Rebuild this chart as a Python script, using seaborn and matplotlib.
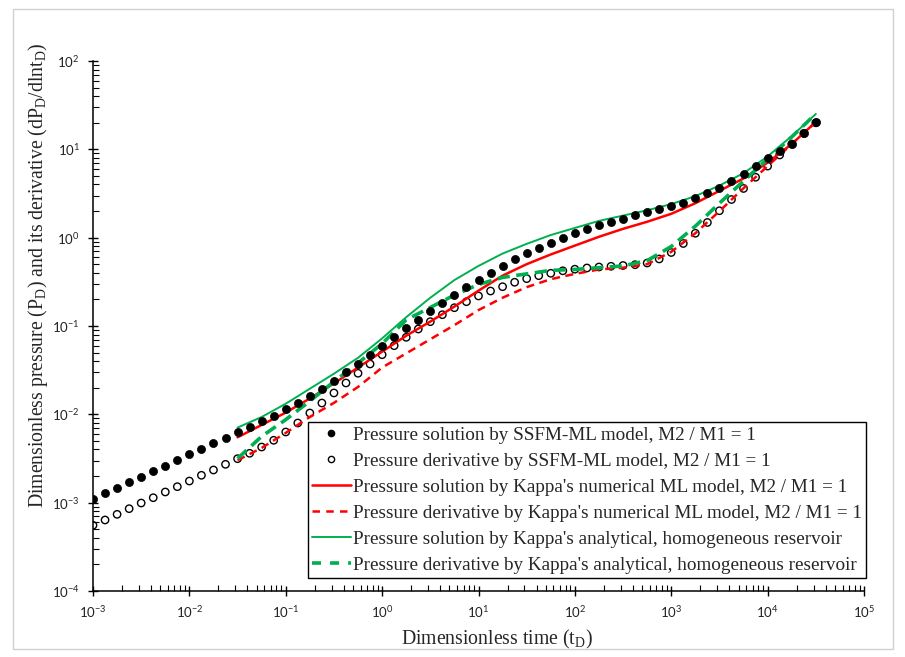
import numpy as np
import pandas as pd
import seaborn as sns
import matplotlib
matplotlib.use("Agg")
import matplotlib.pyplot as plt
from matplotlib.lines import Line2D
from matplotlib.patches import Rectangle
from matplotlib.ticker import FixedLocator, NullFormatter, LogFormatterSciNotation

# ---------------- data (log10 values) ----------------
dot_log_t = [-3.0, -2.875, -2.75, -2.625, -2.5, -2.375, -2.25, -2.125,
             -2.0, -1.875, -1.75, -1.625, -1.5, -1.375, -1.25, -1.125,
             -1.0, -0.875, -0.75, -0.625, -0.5, -0.375, -0.25, -0.125,
             0.0, 0.125, 0.25, 0.375, 0.5, 0.625, 0.75, 0.875,
             1.0, 1.125, 1.25, 1.375, 1.5, 1.625, 1.75, 1.875,
             2.0, 2.125, 2.25, 2.375, 2.5, 2.625, 2.75, 2.875,
             3.0, 3.125, 3.25, 3.375, 3.5, 3.625, 3.75, 3.875,
             4.0, 4.125, 4.25, 4.375, 4.5]
ssfm_p_log = [-2.958, -2.894, -2.831, -2.769, -2.706, -2.641, -2.581, -2.517,
              -2.452, -2.392, -2.328, -2.264, -2.203, -2.143, -2.079, -2.015,
              -1.943, -1.872, -1.796, -1.710, -1.619, -1.521, -1.430, -1.329,
              -1.223, -1.124, -1.026, -0.929, -0.834, -0.743, -0.646, -0.562,
              -0.476, -0.397, -0.321, -0.245, -0.177, -0.117, -0.057, -0.007,
              0.050, 0.095, 0.140, 0.177, 0.215, 0.253, 0.289, 0.321,
              0.359, 0.396, 0.446, 0.502, 0.566, 0.642, 0.722, 0.810,
              0.906, 0.985, 1.065, 1.180, 1.306]
ssfm_d_log = [-3.256, -3.196, -3.132, -3.068, -3.004, -2.944, -2.879, -2.819,
              -2.755, -2.690, -2.630, -2.566, -2.502, -2.441, -2.370, -2.294,
              -2.200, -2.098, -1.985, -1.872, -1.758, -1.645, -1.535, -1.430,
              -1.325, -1.223, -1.128, -1.034, -0.951, -0.872, -0.793, -0.725,
              -0.660, -0.604, -0.555, -0.505, -0.464, -0.430, -0.403, -0.375,
              -0.357, -0.343, -0.332, -0.324, -0.315, -0.306, -0.287, -0.241,
              -0.168, -0.066, 0.050, 0.172, 0.305, 0.432, 0.557, 0.684,
              0.810, 0.936, 1.060, 1.180, 1.300]

line_log_t = [-1.5, -1.25, -1.0, -0.75, -0.5, -0.25, 0.0, 0.25, 0.5, 0.75,
              1.0, 1.25, 1.5, 1.75, 2.0, 2.25, 2.5, 2.75, 3.0, 3.25,
              3.5, 3.75, 4.0, 4.25, 4.5]
kappa_num_p_log = [-2.26, -2.12, -1.98, -1.82, -1.65, -1.47, -1.29, -1.11, -0.95, -0.78,
                   -0.60, -0.43, -0.30, -0.19, -0.09, 0.01, 0.10, 0.18, 0.27, 0.39,
                   0.53, 0.67, 0.85, 1.06, 1.31]
kappa_num_d_log = [-2.52, -2.38, -2.21, -2.03, -1.87, -1.69, -1.47, -1.31, -1.15, -0.99,
                   -0.82, -0.68, -0.56, -0.47, -0.41, -0.36, -0.34, -0.30, -0.16, 0.05,
                   0.30, 0.56, 0.81, 1.06, 1.31]
kappa_ana_p_log = [-2.15, -2.03, -1.88, -1.71, -1.54, -1.36, -1.14, -0.90, -0.68, -0.48,
                   -0.32, -0.18, -0.07, 0.03, 0.11, 0.19, 0.25, 0.31, 0.38, 0.47,
                   0.59, 0.73, 0.92, 1.15, 1.40]
kappa_ana_d_log_t = [-1.5, -1.25, -1.0, -0.75, -0.5, -0.25, 0.0, 0.25, 0.5, 0.75,
                     1.0, 1.25, 1.5, 1.75, 2.0, 2.25, 2.5, 2.75, 3.0, 3.25,
                     3.5, 3.75, 4.0, 4.25, 4.45]
kappa_ana_d_log = [-2.50, -2.25, -2.06, -1.85, -1.63, -1.42, -1.20, -0.93, -0.79, -0.65,
                   -0.53, -0.45, -0.41, -0.37, -0.36, -0.34, -0.32, -0.26, -0.10, 0.13,
                   0.39, 0.64, 0.89, 1.14, 1.35]

x_ticks = [1e-3, 1e-2, 1e-1, 1e0, 1e1, 1e2, 1e3, 1e4, 1e5]
y_ticks = [1e-4, 1e-3, 1e-2, 1e-1, 1e0, 1e1, 1e2]

labels = ["Pressure solution by SSFM-ML model, M2 / M1 = 1",
          "Pressure derivative by SSFM-ML model, M2 / M1 = 1",
          "Pressure solution by Kappa's numerical ML model, M2 / M1 = 1",
          "Pressure derivative by Kappa's numerical ML model, M2 / M1 = 1",
          "Pressure solution by Kappa's analytical, homogeneous reservoir",
          "Pressure derivative by Kappa's analytical, homogeneous reservoir"]

RED = "#FF0000"
GREEN = "#00B050"

# ---------------- figure ----------------
sns.set_style("ticks")
plt.rcParams["font.family"] = ["Liberation Serif", "DejaVu Serif"]
plt.rcParams["mathtext.fontset"] = "custom"
plt.rcParams["mathtext.rm"] = "Liberation Serif"

fig = plt.figure(figsize=(9.05, 6.57), dpi=100)
fig.patches.append(Rectangle((13 / 905, 1 - 649 / 657), 880 / 905, 640 / 657,
                             transform=fig.transFigure, fill=False,
                             edgecolor="#d0d0d0", linewidth=1.0, zorder=0))
ax = fig.add_axes([93 / 905, 1 - 591 / 657, 771 / 905, 530 / 657])
ax.set_xscale("log")
ax.set_yscale("log")

dots = pd.DataFrame({"t": np.power(10.0, dot_log_t),
                     "p": np.power(10.0, ssfm_p_log),
                     "d": np.power(10.0, ssfm_d_log)})
lines = pd.DataFrame({"t": np.power(10.0, line_log_t),
                      "num_p": np.power(10.0, kappa_num_p_log),
                      "num_d": np.power(10.0, kappa_num_d_log),
                      "ana_p": np.power(10.0, kappa_ana_p_log)})
ana_d = pd.DataFrame({"t": np.power(10.0, kappa_ana_d_log_t),
                      "d": np.power(10.0, kappa_ana_d_log)})

sns.scatterplot(data=dots, x="t", y="d", ax=ax, marker="o", s=28,
                facecolors="none", edgecolor="black", linewidth=1.0, zorder=2,
                legend=False)
ax.collections[-1].set_facecolor("none")

sns.lineplot(data=lines, x="t", y="num_p", ax=ax, color=RED, linewidth=1.8,
             sort=False, zorder=3, legend=False)
sns.lineplot(data=lines, x="t", y="num_d", ax=ax, color=RED, linewidth=1.8,
             sort=False, zorder=3, legend=False)
ax.lines[-1].set_dashes((3.2, 2.2))
sns.lineplot(data=lines, x="t", y="ana_p", ax=ax, color=GREEN, linewidth=1.4,
             sort=False, zorder=3, legend=False)
sns.lineplot(data=ana_d, x="t", y="d", ax=ax, color=GREEN, linewidth=2.6,
             sort=False, zorder=3, legend=False)
ax.lines[-1].set_dashes((3.4, 1.8))

sns.scatterplot(data=dots, x="t", y="p", ax=ax, marker="o", s=34,
                color="black", edgecolor="black", linewidth=0.5, zorder=4,
                legend=False)

ax.set_xlim(1e-3, 1e5)
ax.set_ylim(1e-4, 1e2)
ax.xaxis.set_major_locator(FixedLocator(x_ticks))
ax.yaxis.set_major_locator(FixedLocator(y_ticks))
ax.xaxis.set_major_formatter(LogFormatterSciNotation())
ax.yaxis.set_major_formatter(LogFormatterSciNotation())
x_minor = [m * t for t in x_ticks[:-1] for m in range(2, 10)]
y_minor = [m * t for t in y_ticks[:-1] for m in range(2, 10)]
ax.xaxis.set_minor_locator(FixedLocator(x_minor))
ax.yaxis.set_minor_locator(FixedLocator(y_minor))
ax.xaxis.set_minor_formatter(NullFormatter())
ax.yaxis.set_minor_formatter(NullFormatter())

for s in ["top", "right"]:
    ax.spines[s].set_visible(False)
for s in ["left", "bottom"]:
    ax.spines[s].set_color("black")
    ax.spines[s].set_linewidth(1.1)
ax.tick_params(which="major", direction="inout", length=7, width=1.0, color="black",
               labelsize=9.5, pad=6)
ax.tick_params(which="minor", direction="in", length=4, width=0.8, color="black")
for lab in ax.get_xticklabels() + ax.get_yticklabels():
    lab.set_fontfamily(["Lato", "DejaVu Sans"])
    lab.set_color("#222222")

ax.set_xlabel("Dimensionless time (t$_\\mathregular{D}$)", fontsize=14.2)
ax.xaxis.set_label_coords((497 - 93) / 771, -0.07)
ax.set_ylabel("Dimensionless pressure (P$_\\mathregular{D}$) and its derivative "
              "(dP$_\\mathregular{D}$/dlnt$_\\mathregular{D}$)", fontsize=14.2)
ax.yaxis.set_label_coords((50 - 93) / 771, (591 - 275) / 530)

handles = [
    Line2D([], [], linestyle="none", marker="o", markersize=4.5,
           markerfacecolor="black", markeredgecolor="black"),
    Line2D([], [], linestyle="none", marker="o", markersize=4.5,
           markerfacecolor="none", markeredgecolor="black", markeredgewidth=1.0),
    Line2D([], [], color=RED, linewidth=1.8),
    Line2D([], [], color=RED, linewidth=1.8, dashes=(3, 2.5)),
    Line2D([], [], color=GREEN, linewidth=1.4),
    Line2D([], [], color=GREEN, linewidth=2.6, dashes=(2.5, 2.5)),
]
leg = ax.legend(handles, labels, loc="lower right", bbox_to_anchor=(1.003, 0.025),
                borderaxespad=0, frameon=True, fancybox=False, shadow=False,
                fontsize=13.8, handlelength=2.0, handletextpad=0.15,
                labelspacing=0.45, borderpad=0.2, framealpha=1)
leg.get_frame().set_edgecolor("black")
leg.get_frame().set_linewidth(1.0)

fig.savefig("out.png", dpi=100)
